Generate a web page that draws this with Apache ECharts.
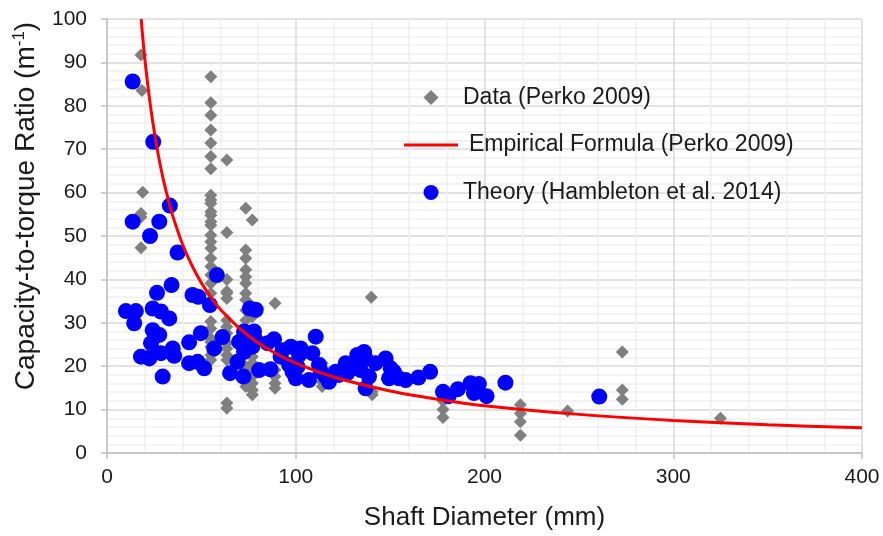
<!DOCTYPE html>
<html>
<head>
<meta charset="utf-8">
<script src="https://cdn.jsdelivr.net/npm/echarts@6/dist/echarts.min.js"></script>
<style>
  html, body { margin: 0; padding: 0; background: #fff; }
  #main { width: 883px; height: 536px; }
</style>
</head>
<body>
<div id="main"></div>
<script>
// Perko 2009 field data: [shaft diameter (mm), capacity-to-torque ratio (1/m)]
var perkoData = [
    [18, 91.7], [18.5, 83.5], [18.9, 60.1], [18, 55.2], [18, 54.4], [18, 47.3],
    [55, 86.7], [55, 80.7], [55, 77.8], [55, 74.4], [55, 71.4], [55, 68.3], [55, 65.5],
    [55, 59.4], [55, 58.3], [55, 57.5], [55, 55.6], [55, 54.8], [55, 53.3], [55, 52.5],
    [55, 50.2], [55, 48.7], [55, 47.2], [55, 44.9], [55, 43], [55, 41], [55, 39.1],
    [55, 36.8], [55, 34], [55, 30.3], [55, 28.7], [55, 26.4], [55, 25.6], [55, 24.5],
    [55, 22.6], [55, 21.4],
    [63.5, 67.5], [63.5, 50.8], [63.5, 40], [63.5, 37.2], [63.5, 36.8], [63.5, 35.6],
    [63.5, 30.6], [63.5, 29.1], [63.5, 27.6], [63.5, 25.3], [63.5, 24.1], [63.5, 22.6],
    [63.5, 21.4], [63.5, 11.5], [63.5, 10.3],
    [73.5, 56.4], [73.5, 46.8], [73.5, 44.9], [73.5, 42.2], [73.5, 40.6], [73.5, 39.1],
    [73.5, 36.8], [73.5, 35.3], [73.5, 32.9], [73.5, 30.6], [73.5, 23], [73.5, 19.9],
    [73.5, 16.8], [73.5, 15.3],
    [77, 53.7], [77, 33.7], [77, 31.4], [77, 23.7], [77, 22.2], [77, 20.7], [77, 19.1],
    [77, 17.6], [77, 16.1], [77, 14.5], [77, 13.4],
    [89, 34.5], [89, 19.1], [89, 17.6], [89, 16.1], [89, 14.9],
    [114, 20.7], [115.5, 19.1], [114, 16.4], [114, 15.3],
    [140, 35.9], [140.5, 14.1], [140.5, 13.4],
    [178, 12], [178, 10], [178, 8.2],
    [219, 11.1], [219, 9.1], [219, 7.2], [219, 4.1],
    [244, 9.7],
    [273, 23.3], [273, 14.5], [273, 12.4],
    [325, 8]
];

// Empirical formula curve (Perko 2009)
var curveX = [18.1, 19, 20, 21, 22, 23.5, 25, 27.5, 30, 32.5, 35, 40, 45, 50, 55, 60, 70, 80, 90, 100, 120, 150, 175, 200, 250, 300, 350, 400];
var curveY = [100, 95.5, 91.0, 87.1, 83.4, 78.5, 74.2, 67.9, 62.7, 58.3, 54.4, 48.1, 43.2, 39.2, 35.9, 33.1, 28.8, 25.4, 22.8, 20.7, 17.5, 14.3, 12.4, 10.9, 8.9, 7.5, 6.5, 5.8];

// Theory (Hambleton et al. 2014)
var theoryData = [
    [13.6, 85.6], [24.5, 71.7], [33.3, 57], [13.6, 53.3], [27.7, 53.3], [22.8, 50],
    [37.4, 46.2], [58.2, 41], [34.2, 38.7], [26.5, 36.9], [45.3, 36.4], [48.3, 36],
    [54.5, 34.1], [75.7, 33.3],
    [10, 32.7], [15.3, 32.7], [24.2, 33.3], [28.6, 32.6], [33, 31], [14.4, 29.9],
    [24.2, 28.3], [27.7, 27.2], [23.3, 25.3], [18, 22.2], [22.4, 21.8], [25, 23.3],
    [28.6, 23], [34.8, 24.1], [35.6, 22.4], [29.5, 17.6], [43.5, 25.5], [49.7, 27.6],
    [43.5, 20.7], [48, 21], [51.5, 19.5], [56.8, 24.1], [61.2, 26.7], [65.2, 18.4],
    [72.3, 17.6], [69.1, 21],
    [72.6, 28], [77.9, 28], [74.4, 25.6], [70, 25.6], [72.6, 23.3], [77, 24.5],
    [78.8, 33], [78.8, 26], [85, 25.3], [88.5, 26.2], [80.6, 19.1], [86.6, 19.3],
    [93, 23.7], [97.4, 24.5], [92, 22.2], [96.5, 20.3], [100, 17.2],
    [102.6, 24.1], [101.8, 22.6], [100.9, 19.9], [98.3, 18.7], [110.6, 26.8],
    [108.8, 23], [107, 16.8], [112.3, 20.3], [113.2, 18.7], [115.9, 17.6], [117.6, 16.4],
    [121.2, 18.7], [122.9, 18], [126.5, 20.7], [129.1, 19.9], [127.3, 18.4],
    [132.6, 22.6], [136.2, 23.3], [137, 21.8], [133.5, 21], [134.4, 19.1], [138.8, 17.6],
    [137, 14.9], [142.3, 20.7], [147.6, 21.8], [150.3, 19.5], [152, 18.7], [149.4, 17.2],
    [154.7, 17.2], [158.2, 16.8], [165, 17.4], [171.2, 18.7], [178, 14.1], [181, 13.1],
    [185.9, 14.7], [192.6, 16.1], [197, 15.9], [194.4, 13.8], [201.1, 13.1],
    [211.1, 16.2], [260.8, 13]
];

var seriesNames = ['Data (Perko 2009)', 'Empirical Formula (Perko 2009)', 'Theory (Hambleton et al. 2014)'];

var curveData = curveX.map(function (x, i) { return [x, curveY[i]]; });

var FONT = "'Liberation Sans', Arial, sans-serif";
var TXT = '#1a1a1a';

var myChart = echarts.init(document.getElementById('main'));

var option = {
    backgroundColor: '#fff',
    animation: false,
    textStyle: { fontFamily: FONT },
    grid: { left: 107, right: 21, top: 19, bottom: 83 },
    legend: {
        orient: 'vertical',
        left: 399,
        top: 81,
        itemWidth: 54,
        itemHeight: 15,
        itemGap: 24.5,
        symbolKeepAspect: true,
        textStyle: { fontSize: 23, color: TXT, fontFamily: FONT },
        data: [
            { name: seriesNames[0], icon: 'path://M7,0L14,7L7,14L0,7Z' },
            { name: seriesNames[1], icon: 'path://M0,0H54V3H0Z', textStyle: { padding: [0, 0, 0, 6] } },
            { name: seriesNames[2], icon: 'circle' }
        ]
    },
    xAxis: {
        type: 'value',
        min: 0,
        max: 400,
        interval: 100,
        name: 'Shaft Diameter (mm)',
        nameLocation: 'middle',
        nameGap: 52,
        nameTextStyle: { fontSize: 26, color: TXT },
        axisLine: { show: true, lineStyle: { color: '#bfbfbf', width: 1.5 } },
        axisTick: { show: true, length: 6, lineStyle: { color: '#bfbfbf', width: 1.5 } },
        axisLabel: { fontSize: 21, color: TXT, margin: 14 },
        splitLine: { show: true, lineStyle: { color: '#d9d9d9', width: 1.5 } },
        minorTick: { show: false, splitNumber: 5 },
        minorSplitLine: { show: true, lineStyle: { color: '#efefef', width: 1.5 } }
    },
    yAxis: {
        type: 'value',
        min: 0,
        max: 100,
        interval: 10,
        name: 'Capacity-to-torque Ratio (m{sup|-1})',
        nameLocation: 'middle',
        nameGap: 66,
        nameTextStyle: {
            fontSize: 28,
            color: TXT,
            lineHeight: 30,
            padding: [0, 0, 0, 60],
            rich: {
                sup: { fontSize: 17, verticalAlign: 'top', lineHeight: 30, color: TXT }
            }
        },
        axisLine: { show: true, lineStyle: { color: '#bfbfbf', width: 1.5 } },
        axisTick: { show: true, length: 6, lineStyle: { color: '#bfbfbf', width: 1.5 } },
        axisLabel: { fontSize: 21, color: TXT, margin: 20 },
        splitLine: { show: true, lineStyle: { color: '#d9d9d9', width: 1.5 } },
        minorTick: { show: false, splitNumber: 5 },
        minorSplitLine: { show: true, lineStyle: { color: '#efefef', width: 1.5 } }
    },
    series: [
        {
            name: seriesNames[0],
            type: 'scatter',
            symbol: 'diamond',
            symbolSize: 13,
            itemStyle: { color: '#7f7f7f', opacity: 1 },
            data: perkoData
        },
        {
            name: seriesNames[1],
            type: 'line',
            showSymbol: false,
            symbol: 'none',
            smooth: 0.3,
            clip: true,
            lineStyle: { color: '#ff0000', width: 3 },
            itemStyle: { color: '#ff0000' },
            data: curveData
        },
        {
            name: seriesNames[2],
            type: 'scatter',
            symbol: 'circle',
            symbolSize: 16,
            itemStyle: { color: '#0000ff', opacity: 1 },
            data: theoryData
        }
    ]
};

myChart.setOption(option);
</script>
</body>
</html>
